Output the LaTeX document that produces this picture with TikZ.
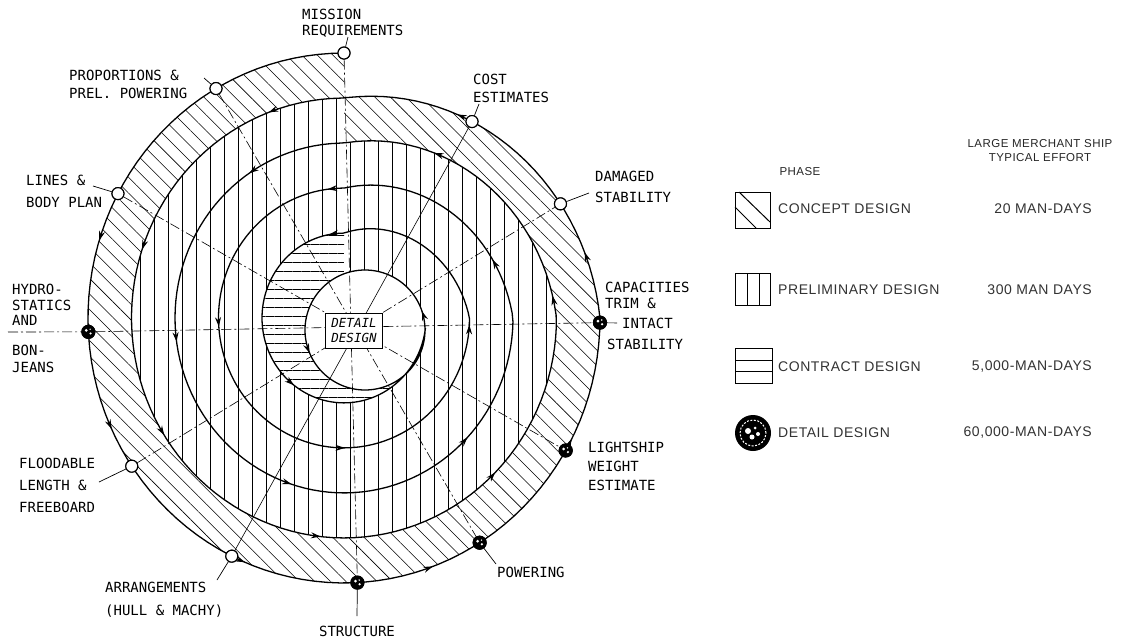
\documentclass[tikz,border=0pt]{standalone}
\usepackage{fontspec}
\setmonofont{DejaVu Sans Mono}
\newfontfamily\legfont[LetterSpace=4]{Liberation Sans}
\usetikzlibrary{patterns.meta,decorations.markings,arrows.meta}
\begin{document}
\begin{tikzpicture}[x=1pt,y=-1pt,
  declare function={
    sr(\t)=256-43.5*floor(\t/360)-43.5*max(0,mod(\t,360)-270)/90;
    sx(\t)=344+sr(\t)*cos(90+\t);
    sy(\t)=318-1.035*sr(\t)*sin(90+\t);
    qx(\t)=365+60*cos(\t);
    qy(\t)=330-60*sin(\t);
  },
  spiral/.style={line width=1.3pt},
  arrowed/.style={postaction={decorate,decoration={markings,
     mark=between positions 0.025 and 0.975 step 0.035 with {\arrow{Stealth[length=9.5pt,width=6pt]}}}}},
  conc/.style={pattern={Lines[angle=-45,distance=11pt,line width=0.55pt]}},
  prel/.style={pattern={Lines[angle=90,distance=14pt,line width=0.5pt]}},
  cont/.style={pattern={Lines[angle=0,distance=9pt,line width=0.5pt]}},
  radial/.style={line width=0.6pt,dash pattern=on 10pt off 3pt on 2pt off 3pt},
  leader/.style={line width=0.7pt},
  wnode/.style={circle,draw,fill=white,line width=1.1pt,minimum size=12pt,inner sep=0pt},
  dnode/.style={circle,draw,fill=black,line width=1.1pt,minimum size=13pt,inner sep=0pt,
    path picture={
      \fill[white] ([shift={(-2pt,1.5pt)}]path picture bounding box.center) circle[radius=1.5pt];
      \fill[white] ([shift={(2.2pt,-1.6pt)}]path picture bounding box.center) circle[radius=1.2pt];
      \fill[white] ([shift={(1.8pt,2.6pt)}]path picture bounding box.center) circle[radius=0.8pt];}},
  lab/.style={font=\ttfamily\fontsize{14}{18}\selectfont,inner sep=0pt,align=left,anchor=north west},
  leg/.style={font=\legfont\fontsize{14}{16}\selectfont,text=black!80,inner sep=0pt},
  head/.style={font=\legfont\fontsize{11.5}{14}\selectfont,text=black!85,inner sep=0pt,align=center},
]
\useasboundingbox (0,0) rectangle (1124,640);
\fill[white] (0,0) rectangle (1124,640);

% ---------- hatched regions ----------
\fill[conc] plot[domain=0:360,samples=121] ({sx(\x)},{sy(\x)})
   -- plot[domain=720:360,samples=121] ({sx(\x)},{sy(\x)}) -- cycle;
\fill[prel] plot[domain=360:720,samples=121] ({sx(\x)},{sy(\x)})
   -- plot[domain=110.5:0,samples=40] ({qx(\x)},{qy(\x)})
   -- plot[domain=1702:1440,samples=90] ({sx(\x)},{sy(\x)}) -- cycle;
\fill[cont,even odd rule] plot[domain=1440:1702,samples=90] ({sx(\x)},{sy(\x)})
   -- plot[domain=0:110.5,samples=40] ({qx(\x)},{qy(\x)}) -- cycle
   plot[domain=0:360,samples=121] ({qx(\x)},{qy(\x)}) -- cycle;

% ---------- nodes on the spiral ----------
\node[wnode] (mis) at ({sx(0)},{sy(0)}) {};
\node[wnode] (pro) at ({sx(30)},{sy(30)}) {};
\node[wnode] (lin) at ({sx(62)},{sy(62)}) {};
\node[dnode] (hyd) at ({sx(93)},{sy(93)}) {};
\node[wnode] (flo) at ({sx(124)},{sy(124)}) {};
\node[wnode] (arr) at ({sx(154)},{sy(154)}) {};
\node[dnode] (str) at ({sx(183)},{sy(183)}) {};
\node[dnode] (pow) at ({sx(212)},{sy(212)}) {};
\node[dnode] (lig) at ({sx(240)},{sy(240)}) {};
\node[dnode] (cap) at ({sx(269)},{sy(269)}) {};
\node[wnode] (dam) at ({sx(297)},{sy(297)}) {};
\node[wnode] (cos) at ({sx(326)},{sy(326)}) {};

% ---------- radial lines ----------
\coordinate (hydend) at (8,332);
\coordinate (capend) at (617,323);
\draw[radial] (mis) -- (str);
\draw[radial] (pro) -- (pow);
\draw[radial] (lin) -- (lig);
\draw[radial] (hydend) -- (hyd) -- (cap) -- (capend);
\draw[radial] (flo) -- (dam);
\draw[line width=0.6pt] (cos) -- (arr);

% ---------- spiral ----------
\draw[spiral,arrowed] plot[domain=0:1702,samples=600] ({sx(\x)},{sy(\x)})
   -- plot[domain=0:360,samples=121] ({qx(\x)},{qy(\x)});

% redraw nodes on top
\node[wnode] at (mis) {};
\node[wnode] at (pro) {};
\node[wnode] at (lin) {};
\node[dnode] at (hyd) {};
\node[wnode] at (flo) {};
\node[wnode] at (arr) {};
\node[dnode] at (str) {};
\node[dnode] at (pow) {};
\node[dnode] at (lig) {};
\node[dnode] at (cap) {};
\node[wnode] at (dam) {};
\node[wnode] at (cos) {};

% ---------- detail design box ----------
\node[draw,fill=white,line width=0.8pt,inner xsep=6pt,inner ysep=5pt,align=center,
  font=\ttfamily\itshape\fontsize{12.5}{15}\selectfont] (det) at (354,331) {DETAIL\\DESIGN};

% ---------- labels ----------
\node[lab,font=\ttfamily\fontsize{14}{15.5}\selectfont] (lmis) at (302,9) {MISSION\\REQUIREMENTS};
\node[lab] (lpro) at (69,70) {PROPORTIONS \&\\PREL. POWERING};
\node[lab,font=\ttfamily\fontsize{14}{22}\selectfont] (llin) at (26,175) {LINES \&\\BODY PLAN};
\node[lab,font=\ttfamily\fontsize{14}{15.5}\selectfont] (lhyd) at (12,284) {HYDRO-\\STATICS\\AND};
\node[lab,font=\ttfamily\fontsize{14}{17}\selectfont] (lbon) at (12,345) {BON-\\JEANS};
\node[lab,font=\ttfamily\fontsize{14}{22}\selectfont] (lflo) at (19,458) {FLOODABLE\\LENGTH \&\\FREEBOARD};
\node[lab,font=\ttfamily\fontsize{14}{23}\selectfont] (larr) at (105,582) {ARRANGEMENTS\\(HULL \& MACHY)};
\node[lab,anchor=north] (lstr) at (357,626) {STRUCTURE};
\node[lab] (lpow) at (497,567) {POWERING};
\node[lab,font=\ttfamily\fontsize{14}{19}\selectfont] (llig) at (588,442) {LIGHTSHIP\\WEIGHT\\ESTIMATE};
\node[lab,font=\ttfamily\fontsize{14}{16}\selectfont] (lcap) at (605,282) {CAPACITIES\\TRIM \&};
\node[lab] (lint) at (622,318) {INTACT};
\node[lab] (lsta) at (607,339) {STABILITY};
\node[lab,font=\ttfamily\fontsize{14}{21}\selectfont] (ldam) at (595,171) {DAMAGED\\STABILITY};
\node[lab] (lcos) at (473,74) {COST\\ESTIMATES};

% leaders
\coordinate (tmis) at (348,37);
\coordinate (tpro) at (204,78);
\coordinate (tlin) at (93,186);
\coordinate (tflo) at (99,482);
\coordinate (tarr) at (217,580);
\coordinate (tstr) at (357,616);
\coordinate (tpow) at (496,564);
\coordinate (tdam) at (589,193);
\coordinate (tcos) at (479,104);
\draw[leader] (mis) -- (tmis);
\draw[leader] (pro) -- (tpro);
\draw[leader] (lin) -- (tlin);
\draw[leader] (flo) -- (tflo);
\draw[leader] (arr) -- (tarr);
\draw[leader] (str) -- (tstr);
\draw[leader] (pow) -- (tpow);
\draw[leader] (dam) -- (tdam);
\draw[leader] (cos) -- (tcos);

% ---------- legend ----------
\node[head] (hph) at (800,172) {PHASE};
\node[head] (hlm) at (1040,151) {LARGE MERCHANT SHIP\\TYPICAL EFFORT};

% concept box
\draw[line width=1pt] (735,192) rectangle (770,228);
\draw[line width=1pt] (739,192) -- (770,222);
\draw[line width=1pt] (735,207) -- (756,228);
% preliminary box
\draw[line width=1pt] (735,273) rectangle (770,305);
\draw[line width=1pt] (747,273) -- (747,305) (759,273) -- (759,305);
% contract box
\draw[line width=1pt] (735,348) rectangle (772,383);
\draw[line width=1pt] (735,360) -- (772,360) (735,371) -- (772,371);
% detail symbol
\node[circle,fill=black,minimum size=36pt,inner sep=0pt] (ldet) at (753,433) {};
\draw[white,line width=1pt,dash pattern=on 2pt off 1.5pt] (ldet.center) circle[radius=13pt];
\fill[white] ([shift={(-5pt,2pt)}]ldet.center) circle[radius=3pt];
\fill[white] ([shift={(-1pt,-4pt)}]ldet.center) circle[radius=2.5pt];
\fill[white] ([shift={(5pt,-1pt)}]ldet.center) circle[radius=2pt];
\fill[white] ([shift={(2pt,5pt)}]ldet.center) circle[radius=1.5pt];

\node[leg,anchor=west] (n1) at (778,209) {CONCEPT DESIGN};
\node[leg,anchor=west] (n2) at (778,290) {PRELIMINARY DESIGN};
\node[leg,anchor=west] (n3) at (778,367) {CONTRACT DESIGN};
\node[leg,anchor=west] (n4) at (778,433) {DETAIL DESIGN};
\node[leg,anchor=east] (v1) at (1092,209) {20 MAN-DAYS};
\node[leg,anchor=east] (v2) at (1092,290) {300 MAN DAYS};
\node[leg,anchor=east] (v3) at (1092,367) {5,000-MAN-DAYS};
\node[leg,anchor=east] (v4) at (1092,433) {60,000-MAN-DAYS};
\end{tikzpicture}
\end{document}
